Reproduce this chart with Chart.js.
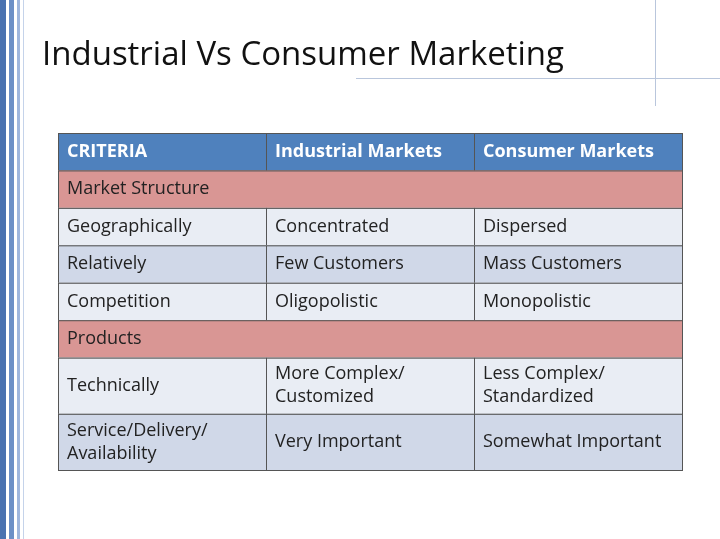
<!DOCTYPE html>
<html><head><meta charset="utf-8">
<script src="https://cdn.jsdelivr.net/npm/chart.js@4"></script>
<style>
body{margin:0;background:#fff;}
#wrap{position:relative;width:720px;height:539px;overflow:hidden;}
.stripe{position:absolute;top:0;bottom:0;}
canvas{position:absolute;left:0;top:0;}
</style></head><body>
<div id="wrap">
<div class="stripe" style="left:0;width:6px;background:#4a72b0"></div>
<div class="stripe" style="left:9px;width:5px;background:#6d90c6"></div>
<div class="stripe" style="left:17px;width:3px;background:#9fb6dc"></div>
<div class="stripe" style="left:23px;width:1px;background:#c5d3ea"></div>
<div style="position:absolute;left:356px;top:78px;width:364px;height:1px;background:#b9c6dc"></div>
<div style="position:absolute;left:655px;top:0;width:1px;height:106px;background:#b9c6dc"></div>
<canvas id="c" width="720" height="539"></canvas>
</div>
<script>
const title = "Industrial Vs Consumer Marketing";
const headers = ["CRITERIA", "Industrial Markets", "Consumer Markets"];
// row kinds: "section" spans all columns, "data" has three cells
const rowKinds = ["section", "data", "data", "data", "section", "data", "data"];
const rowHeights = [1, 1, 1, 1, 1, 1.5, 1.5];
const rowCells = [
  ["Market Structure"],
  ["Geographically", "Concentrated", "Dispersed"],
  ["Relatively", "Few Customers", "Mass Customers"],
  ["Competition", "Oligopolistic", "Monopolistic"],
  ["Products"],
  ["Technically", "More Complex/\nCustomized", "Less Complex/\nStandardized"],
  ["Service/Delivery/\nAvailability", "Very Important", "Somewhat Important"]
];
const rowShades = ["pink", "light", "dark", "light", "pink", "light", "dark"];

const colors = {header: "#4f81bd", pink: "#d99694", light: "#e9edf4", dark: "#d0d8e8"};
const font = "'Open Sans', 'DejaVu Sans', sans-serif";

const tablePlugin = {
  id: "table",
  afterDraw(chart) {
    const ctx = chart.ctx;
    const xs = chart.scales.x, ys = chart.scales.y;
    ctx.save();
    ctx.fillStyle = "#111";
    ctx.font = "33px " + font;
    ctx.textBaseline = "middle";
    ctx.fillText(title, 42, 56);

    const cell = (c0, c1, r0, r1, fill, text, bold, color) => {
      const x0 = xs.getPixelForValue(c0), x1 = xs.getPixelForValue(c1);
      const y0 = ys.getPixelForValue(r0), y1 = ys.getPixelForValue(r1);
      ctx.fillStyle = fill;
      ctx.fillRect(x0, y0, x1 - x0, y1 - y0);
      ctx.strokeStyle = "#555";
      ctx.lineWidth = 1;
      ctx.strokeRect(x0 + 0.5, y0 + 0.5, x1 - x0, y1 - y0);
      ctx.fillStyle = color;
      ctx.font = (bold ? "bold " : "") + "18px " + font;
      const lines = text.split("\n");
      const mid = (y0 + y1) / 2;
      lines.forEach((l, i) => ctx.fillText(l, x0 + 9, mid + (i - (lines.length - 1) / 2) * 23));
    };

    headers.forEach((h, i) => cell(i, i + 1, 0, 1, colors.header, h, true, "#fff"));
    let r = 1;
    rowKinds.forEach((k, i) => {
      const r1 = r + rowHeights[i];
      if (k === "section") cell(0, 3, r, r1, colors.pink, rowCells[i][0], false, "#222");
      else rowCells[i].forEach((t, j) => cell(j, j + 1, r, r1, colors[rowShades[i]], t, false, "#222"));
      r = r1;
    });
    ctx.restore();
  }
};

new Chart(document.getElementById("c"), {
  type: "scatter",
  data: {datasets: [{data: []}]},
  options: {
    responsive: false,
    animation: false,
    layout: {padding: {left: 58, right: 38, top: 133, bottom: 69}},
    plugins: {legend: {display: false}, tooltip: {enabled: false}},
    scales: {
      x: {type: "linear", min: 0, max: 3, display: false},
      y: {type: "linear", min: 0, max: 1 + rowHeights.reduce((a, b) => a + b, 0), reverse: true, display: false}
    }
  },
  plugins: [tablePlugin]
});
</script>
</body></html>
